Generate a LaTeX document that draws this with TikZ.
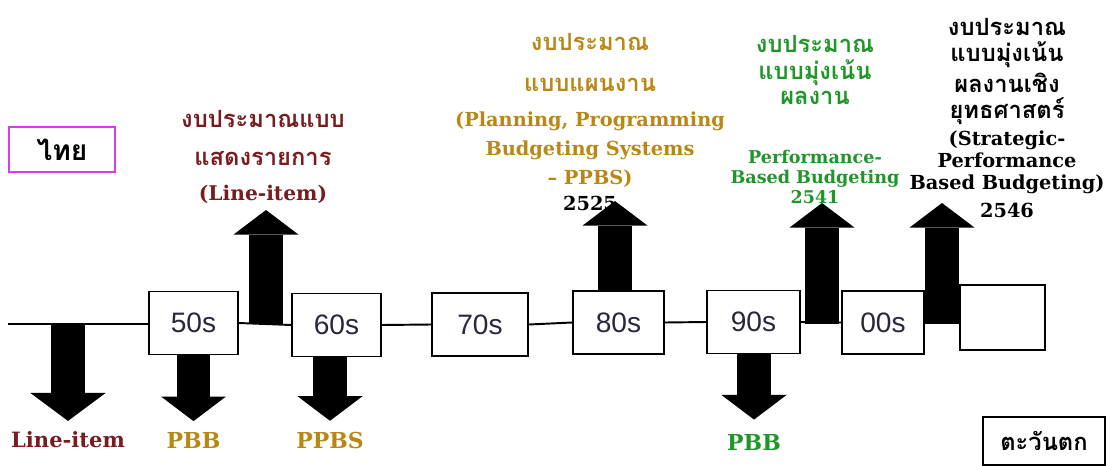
\documentclass[tikz,border=0pt]{standalone}
\usepackage{fontspec}
\setmainfont{DejaVu Serif}
\setsansfont{Liberation Sans}
\newfontfamily\thaifont[Script=Thai]{Loma}
\usetikzlibrary{arrows.meta}
\definecolor{maroonc}{RGB}{120,28,32}
\definecolor{goldc}{RGB}{185,135,20}
\definecolor{greenc}{RGB}{30,150,40}
\definecolor{magc}{RGB}{215,60,230}
\definecolor{boxtext}{RGB}{40,40,60}
\newcommand{\thaistr}[1]{{\thaifont\fontsize{13.5}{16}\selectfont #1}}
\begin{document}
\begin{tikzpicture}[x=0.02cm, y=-0.02cm,
  dec/.style={draw, line width=1.1pt, minimum height=1.26cm, inner sep=0pt, text=boxtext, font=\sffamily\fontsize{16}{16}\selectfont},
  blk/.style={line width=19pt, -{Triangle[width=37pt,length=14pt,line width=0pt]}},
  lbl/.style={align=center, inner sep=0pt, font=\bfseries\fontsize{11}{16.5}\selectfont}]
\useasboundingbox (0,0) rectangle (1111,466);

\node[dec, minimum width=1.78cm] (b50) at (193.5,323) {50s};
\node[dec, minimum width=1.78cm] (b60) at (336.5,325) {60s};
\node[dec, minimum width=1.92cm] (b70) at (480,324.5) {70s};
\node[dec, minimum width=1.82cm] (b80) at (618.5,322.5) {80s};
\node[dec, minimum width=1.86cm] (b90) at (753.5,322) {90s};
\node[dec, minimum width=1.64cm] (b00) at (883,322.5) {00s};
\node[dec, minimum width=1.7cm, minimum height=1.3cm] (bx) at (1002.5,317.5) {};

\node[draw=magc, line width=1.2pt, minimum width=2.12cm, minimum height=0.9cm, inner sep=0pt, font=\thaifont\bfseries\fontsize{16}{16}\selectfont] (thai) at (62,149.5) {ไทย};
\node[draw, line width=1.1pt, minimum width=2.44cm, minimum height=0.96cm, inner sep=0pt, font=\thaifont\bfseries\fontsize{13.5}{14}\selectfont] (west) at (1044,441) {ตะวันตก};

\node[lbl, text=maroonc, font=\bfseries\fontsize{11.5}{20}\selectfont] (l1) at (263,157) {\thaistr{งบประมาณแบบ}\\[1.5pt]\thaistr{แสดงรายการ}\\(Line-item)};
\node[lbl, text=goldc] (l2) at (590,122) {\thaistr{งบประมาณ}\\[7pt]\thaistr{แบบแผนงาน}\\[3.5pt](Planning, Programming\\Budgeting Systems\\– PPBS)\\[-2pt]\textcolor{black}{2525}};
\node[lbl, text=greenc, font=\bfseries\fontsize{10}{11.3}\selectfont] (l3) at (815,119.5) {\thaistr{งบประมาณ}\\[3pt]\thaistr{แบบมุ่งเน้น}\\[3pt]\thaistr{ผลงาน}\\[22pt]Performance-\\Based Budgeting\\2541};
\node[lbl, text=black, font=\bfseries\fontsize{11}{12.6}\selectfont] (l4) at (1007,118) {\thaistr{งบประมาณ}\\[2.2pt]\thaistr{แบบมุ่งเน้น}\\[2.2pt]\thaistr{ผลงานเชิง}\\[2.2pt]\thaistr{ยุทธศาสตร์}\\[2.5pt](Strategic-\\Performance\\Based Budgeting)\\[3pt]2546};

\node[lbl, text=maroonc, font=\bfseries\fontsize{12}{14}\selectfont] (d1) at (68,440) {Line-item};
\node[lbl, text=goldc, font=\bfseries\fontsize{12.5}{14}\selectfont] (d2) at (193.5,440) {PBB};
\node[lbl, text=goldc, font=\bfseries\fontsize{12.5}{14}\selectfont] (d3) at (330,440) {PPBS};
\node[lbl, text=greenc, font=\bfseries\fontsize{12.5}{14}\selectfont] (d4) at (754,442) {PBB};

\coordinate (s) at (8,324);
\draw[line width=1.1pt] (s) -- (s -| b50.west);
\draw[line width=1.1pt] (b50.east) -- (b60.west);
\draw[line width=1.1pt] (b60.east) -- (b70.west);
\draw[line width=1.1pt] (b70.east) -- (b80.west);
\draw[line width=1.1pt] (b80.east) -- (b90.west);
\draw[line width=1.1pt] (b90.east) -- (b00.west);
\draw[line width=1.1pt] (b00.east) -- (b00.east -| bx.west);

\coordinate (u1) at (266,210);
\coordinate (u2) at (615,201);
\coordinate (u3) at (822,203);
\coordinate (u4) at (942,203);

\draw[blk, -{Triangle[width=43pt,length=16pt,line width=0pt]}, shorten >=6pt] (d1 |- s) -- (d1);
\draw[blk, shorten >=6pt] (b50) -- (d2);
\draw[blk, shorten >=6pt] (b60.south -| d3) -- (d3);
\draw[blk, shorten >=8pt] (b90.south -| d4) -- (d4);
\draw[blk] (u1 |- s) -- (u1);
\draw[blk] (b80.north -| u2) -- (u2);
\draw[blk] (u3 |- s) -- (u3);
\draw[blk] (u4 |- s) -- (u4);
\end{tikzpicture}
\end{document}
